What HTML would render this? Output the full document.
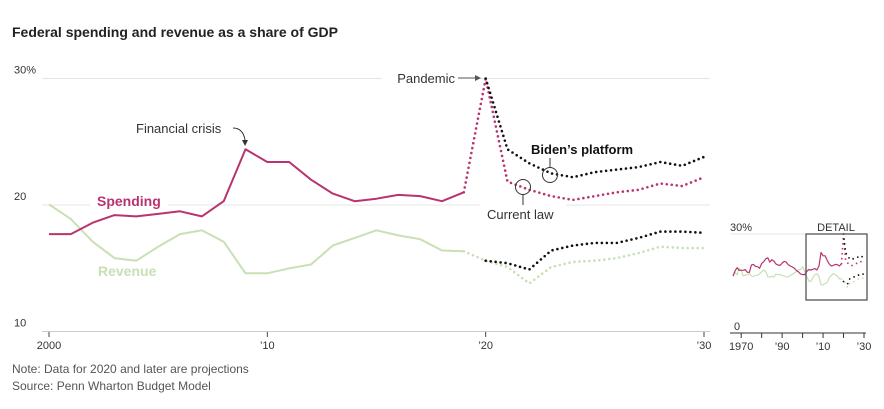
<!DOCTYPE html>
<html><head><meta charset="utf-8"><style>
body{margin:0;background:#fff;font-family:"Liberation Sans",sans-serif;}
svg text{font-family:"Liberation Sans",sans-serif;}
</style></head><body>
<svg id="c" width="884" height="404" viewBox="0 0 884 404">
<text x="12" y="37" font-size="14" font-weight="bold" fill="#222">Federal spending and revenue as a share of GDP</text>
<g id="main"></g>
<g id="mini"></g>
<text x="12" y="373" font-size="12" fill="#555">Note: Data for 2020 and later are projections</text>
<text x="12" y="390" font-size="12" fill="#555">Source: Penn Wharton Budget Model</text>
</svg>
<script>
const histYears=[2000,2001,2002,2003,2004,2005,2006,2007,2008,2009,2010,2011,2012,2013,2014,2015,2016,2017,2018,2019];
const spending=[17.7,17.7,18.6,19.2,19.1,19.3,19.5,19.1,20.3,24.4,23.4,23.4,22.0,20.9,20.3,20.5,20.8,20.7,20.3,21.0];
const revenue=[20.05,18.9,17.1,15.8,15.6,16.7,17.7,18.0,17.1,14.6,14.6,15.0,15.3,16.8,17.4,18.0,17.6,17.3,16.4,16.35];
const projYears=[2019,2020,2021,2022,2023,2024,2025,2026,2027,2028,2029,2030];
const spendCurrent=[21.0,30.0,21.85,21.2,20.7,20.4,20.7,21.0,21.2,21.7,21.5,22.2];
const spendBiden=[30.0,24.4,23.3,22.5,22.2,22.6,22.8,23.0,23.4,23.1,23.8];
const revCurrent=[16.35,15.6,15.1,13.8,15.1,15.5,15.6,15.8,16.2,16.7,16.6,16.6];
const revBiden=[15.6,15.4,14.9,16.4,16.8,17.0,17.0,17.4,17.9,17.9,17.8];
const earlyYears=[1966,1967,1968,1969,1970,1971,1972,1973,1974,1975,1976,1977,1978,1979,1980,1981,1982,1983,1984,1985,1986,1987,1988,1989,1990,1991,1992,1993,1994,1995,1996,1997,1998,1999];
const earlySpending=[17.2,18.8,19.8,19.0,19.0,19.0,19.2,18.4,18.4,20.6,20.8,20.2,20.1,19.6,21.1,21.6,22.5,22.8,21.5,22.2,21.8,20.9,20.6,20.5,21.2,21.7,21.5,20.7,20.3,20.0,19.6,18.9,18.5,17.9];
const earlyRevenue=[17.3,18.4,17.6,19.7,19.0,17.3,17.6,17.6,18.1,17.3,17.1,17.5,17.5,18.0,18.5,19.1,18.6,17.0,16.9,17.2,17.0,17.9,17.6,17.8,17.4,17.3,17.0,17.0,17.5,17.8,18.2,18.6,19.2,19.2];
const mainTicks=[10,20,30];const mainTickLabels=["10","20","30%"];
const xTicks=[2000,2010,2020,2030];const xTickLabels=["2000","’10","’20","’30"];
const miniXTicks=[1970,1980,1990,2000,2010,2020,2030];const miniXLabels={1970:"1970",1990:"’90",2010:"’10",2030:"’30"};

const NS="http://www.w3.org/2000/svg";
function mk(p,t,a){const e=document.createElementNS(NS,t);for(const k in a)e.setAttribute(k,a[k]);p.appendChild(e);return e;}
const MAG="#b8336f",GRN="#c8e0b4",BLK="#111";
const main=document.getElementById('main'),mini=document.getElementById('mini');
const x=v=>49+(v-2000)*(704-49)/30;
const y=v=>205-(v-20)*12.65;
mainTicks.forEach((t,i)=>{
 const g=mk(main,'line',{x1:42,x2:710,y1:y(t),y2:y(t),stroke:i==0?'#ccc':'#e4e4e4','stroke-width':1});
 
 const tx=mk(main,'text',{x:14,y:y(t)-5,'font-size':11,fill:'#333'});tx.textContent=mainTickLabels[i];
 
});
xTicks.forEach((t,i)=>{
 mk(main,'line',{x1:x(t),x2:x(t),y1:332,y2:337,stroke:'#444'});
 const tx=mk(main,'text',{x:x(t),y:349,'font-size':11,fill:'#333','text-anchor':'middle'});tx.textContent=xTickLabels[i];
 
});
function path(p,xs,vs,xf,yf){return xs.map((v,i)=>(i?'L':'M')+xf(v).toFixed(1)+','+yf(vs[i]).toFixed(1)).join('');}
function line(p,xs,vs,col,dot,name,xf,yf,w){
 const e=mk(p,'path',{d:path(p,xs,vs,xf,yf),fill:'none',stroke:col,'stroke-width':w||2,'stroke-linejoin':'round'});
 if(dot){e.setAttribute('stroke-dasharray','0 5');e.setAttribute('stroke-linecap','round');e.setAttribute('stroke-width',(w||2)+0.6);}
 
}
mk(main,'rect',{x:382,y:70,width:96,height:16,fill:'#fff'});
const py=projYears.slice(1);
line(main,histYears,revenue,GRN,false,'revenue-line',x,y);
line(main,[2019].concat(py),revCurrent,GRN,true,'revenue-current-law-line',x,y);
line(main,py,revBiden,BLK,true,'revenue-biden-line',x,y);
line(main,histYears,spending,MAG,false,'spending-line',x,y);
line(main,projYears,spendCurrent,MAG,true,'spending-current-law-line',x,y);
line(main,py,spendBiden,BLK,true,'spending-biden-line',x,y);
const ann=mk(main,'g',{});
let t=mk(ann,'text',{x:455,y:83,'font-size':13,fill:'#333','text-anchor':'end'});t.textContent='Pandemic';
mk(ann,'line',{x1:458,x2:476,y1:78,y2:78,stroke:'#555'});mk(ann,'path',{d:'M481,78 l-6,-3 v6z',fill:'#555'});
t=mk(ann,'text',{x:136,y:133,'font-size':13,fill:'#333'});t.textContent='Financial crisis';
mk(ann,'path',{d:'M233,128 q10,0 12,12',fill:'none',stroke:'#333'});mk(ann,'path',{d:'M245,146 l-3,-6 h6z',fill:'#333'});
mk(ann,'rect',{x:90,y:190,width:78,height:18,fill:'#fff'});
t=mk(ann,'text',{x:97,y:206,'font-size':14,'font-weight':'bold',fill:MAG});t.textContent='Spending';
t=mk(ann,'text',{x:98,y:276,'font-size':14,'font-weight':'bold',fill:GRN});t.textContent='Revenue';
t=mk(ann,'text',{x:531,y:154,'font-size':13,'font-weight':'bold',fill:'#111'});t.textContent='Biden’s platform';
mk(ann,'line',{x1:550,x2:550,y1:158,y2:168,stroke:'#333'});mk(ann,'circle',{cx:550,cy:175,r:7.5,fill:'none',stroke:'#333'});
mk(ann,'rect',{x:480,y:202,width:86,height:22,fill:'#fff'});
t=mk(ann,'text',{x:487,y:219,'font-size':13,fill:'#333'});t.textContent='Current law';
mk(ann,'circle',{cx:523,cy:187,r:7.5,fill:'none',stroke:'#333'});mk(ann,'line',{x1:523,x2:523,y1:195,y2:205,stroke:'#333'});
const mx=v=>733+(v-1966)*(864-733)/64;
const my=v=>333-v*3.3;
mk(mini,'line',{x1:730,x2:866,y1:my(30),y2:my(30),stroke:'#e4e4e4'});
mk(mini,'line',{x1:730,x2:866,y1:333,y2:333,stroke:'#333'});
t=mk(mini,'text',{x:730,y:my(30)-3,'font-size':11,fill:'#333'});t.textContent='30%';
t=mk(mini,'text',{x:734,y:330,'font-size':11,fill:'#333'});t.textContent='0';
miniXTicks.forEach(v=>{mk(mini,'line',{x1:mx(v),x2:mx(v),y1:333,y2:338,stroke:'#333'});
 if(miniXLabels[v]){const e=mk(mini,'text',{x:mx(v),y:350,'font-size':11,fill:'#333','text-anchor':'middle'});e.textContent=miniXLabels[v];
 }});
line(mini,earlyYears.concat(histYears),earlyRevenue.concat(revenue),GRN,false,'mini-revenue-line',mx,my,1.2);
line(mini,earlyYears.concat(histYears),earlySpending.concat(spending),MAG,false,'mini-spending-line',mx,my,1.2);
line(mini,projYears,spendCurrent,MAG,true,'mini-spending-current',mx,my,1.2);
line(mini,py,spendBiden,BLK,true,'mini-spending-biden',mx,my,1.2);
line(mini,[2019].concat(py),revCurrent,GRN,true,'mini-revenue-current',mx,my,1.2);
line(mini,py,revBiden,BLK,true,'mini-revenue-biden',mx,my,1.2);
const box=mk(mini,'rect',{x:806,y:234,width:61,height:66,fill:'none',stroke:'#555','stroke-width':1.3});

mk(mini,'rect',{x:818,y:220,width:40,height:13,fill:'#fff'});
t=mk(mini,'text',{x:836,y:231,'font-size':11,fill:'#333','text-anchor':'middle'});t.textContent='DETAIL';
</script>
</body></html>
